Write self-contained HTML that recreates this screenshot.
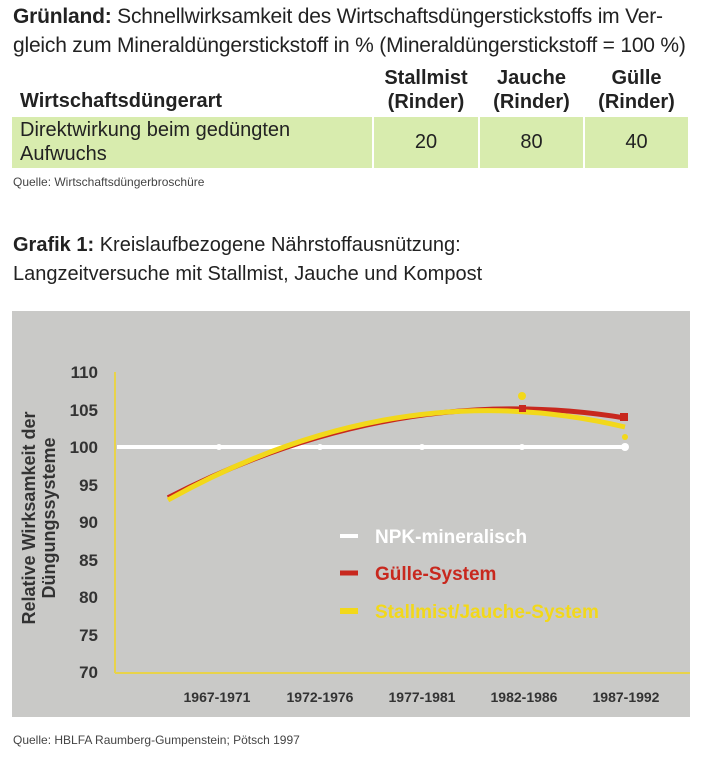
<!DOCTYPE html>
<html><head><meta charset="utf-8"><style>
body{margin:0;width:701px;height:758px;background:#fff;font-family:"Liberation Sans",sans-serif;color:#222;position:relative;overflow:hidden}
.t{position:absolute;white-space:nowrap}
.n{font-family:"Liberation Sans Narrow","Liberation Sans",sans-serif}
</style></head><body>
<div class="t n" style="left:13px;top:5px;font-size:21px;letter-spacing:-0.2px"><b>Grünland:</b> Schnellwirksamkeit des Wirtschaftsdüngerstickstoffs im Ver-</div>
<div class="t n" style="left:13px;top:34px;font-size:21px;letter-spacing:-0.2px">gleich zum Mineraldüngerstickstoff in % (Mineraldüngerstickstoff = 100 %)</div>
<div class="t n" style="left:20px;top:90px;font-size:20px;font-weight:bold">Wirtschaftsdüngerart</div>
<div class="t n" style="left:374px;width:104px;top:66px;font-size:20px;font-weight:bold;text-align:center;line-height:24px">Stallmist<br>(Rinder)</div>
<div class="t n" style="left:480px;width:103px;top:66px;font-size:20px;font-weight:bold;text-align:center;line-height:24px">Jauche<br>(Rinder)</div>
<div class="t n" style="left:585px;width:103px;top:66px;font-size:20px;font-weight:bold;text-align:center;line-height:24px">Gülle<br>(Rinder)</div>
<div style="position:absolute;left:12px;top:117px;width:360px;height:51px;background:#d8ecae"></div>
<div style="position:absolute;left:374px;top:117px;width:104px;height:51px;background:#d8ecae"></div>
<div style="position:absolute;left:480px;top:117px;width:103px;height:51px;background:#d8ecae"></div>
<div style="position:absolute;left:585px;top:117px;width:103px;height:51px;background:#d8ecae"></div>
<div class="t n" style="left:20px;top:118px;font-size:20px;line-height:24px">Direktwirkung beim gedüngten<br>Aufwuchs</div>
<div class="t n" style="left:374px;width:104px;top:131px;font-size:20px;text-align:center">20</div>
<div class="t n" style="left:480px;width:103px;top:131px;font-size:20px;text-align:center">80</div>
<div class="t n" style="left:585px;width:103px;top:131px;font-size:20px;text-align:center">40</div>
<div class="t n" style="left:13px;top:175px;font-size:12px;color:#444">Quelle: Wirtschaftsdüngerbroschüre</div>
<div class="t n" style="left:13px;top:234px;font-size:20px"><b>Grafik 1:</b> Kreislaufbezogene Nährstoffausnützung:</div>
<div class="t n" style="left:13px;top:263px;font-size:20px">Langzeitversuche mit Stallmist, Jauche und Kompost</div>
<svg style="position:absolute;left:0;top:0" width="701" height="758">
<rect x="12" y="311" width="678" height="406" fill="#c9c9c7"/>
<line x1="115" y1="372" x2="115" y2="673" stroke="#e8d34a" stroke-width="2"/>
<line x1="115" y1="673" x2="690" y2="673" stroke="#e8d34a" stroke-width="2"/>
<g font-family="Liberation Sans" font-weight="bold" font-size="17" fill="#333" text-anchor="end">
<text x="98" y="378">110</text><text x="98" y="416">105</text><text x="98" y="453">100</text>
<text x="98" y="491">95</text><text x="98" y="528">90</text><text x="98" y="566">85</text>
<text x="98" y="603">80</text><text x="98" y="641">75</text><text x="98" y="678">70</text>
</g>
<g font-family="Liberation Sans" font-weight="bold" font-size="14" fill="#333" text-anchor="middle">
<text x="217" y="702">1967-1971</text><text x="320" y="702">1972-1976</text><text x="422" y="702">1977-1981</text>
<text x="524" y="702">1982-1986</text><text x="626" y="702">1987-1992</text>
</g>
<g font-family="Liberation Sans" font-weight="bold" font-size="18" fill="#333" text-anchor="middle">
<text transform="translate(35,518) rotate(-90)">Relative Wirksamkeit der</text>
<text transform="translate(55,518) rotate(-90)">Düngungssysteme</text>
</g>
<line x1="117" y1="447" x2="628" y2="447" stroke="#fff" stroke-width="4"/>
<g fill="#fff"><circle cx="219" cy="447" r="3"/><circle cx="320" cy="447" r="3"/><circle cx="422" cy="447" r="3"/><circle cx="522" cy="447" r="3"/><circle cx="625" cy="447" r="4"/></g>
<path d="M168,497.7 Q396.5,380.5 625,418" fill="none" stroke="#c8281e" stroke-width="5"/>
<path d="M168,500 Q396.5,372.3 625,427" fill="none" stroke="#f2d81a" stroke-width="5"/>
<rect x="519" y="405" width="7" height="7" fill="#c8281e"/>
<rect x="620" y="413" width="8" height="8" fill="#c8281e"/>
<circle cx="522" cy="396" r="4" fill="#f2d81a"/>
<circle cx="625" cy="437" r="3" fill="#f2d81a"/>
<line x1="340" y1="536" x2="358" y2="536" stroke="#fff" stroke-width="4"/>
<line x1="340" y1="573" x2="358" y2="573" stroke="#c8281e" stroke-width="5"/>
<line x1="340" y1="611" x2="358" y2="611" stroke="#f2d81a" stroke-width="6"/>
<g font-family="Liberation Sans" font-weight="bold" font-size="19">
<text x="375" y="543" fill="#fff">NPK-mineralisch</text>
<text x="375" y="580" fill="#c8281e">Gülle-System</text>
<text x="375" y="618" fill="#f2d81a">Stallmist/Jauche-System</text>
</g>
</svg>
<div class="t n" style="left:13px;top:733px;font-size:12px;color:#444">Quelle: HBLFA Raumberg-Gumpenstein; Pötsch 1997</div>
</body></html>
